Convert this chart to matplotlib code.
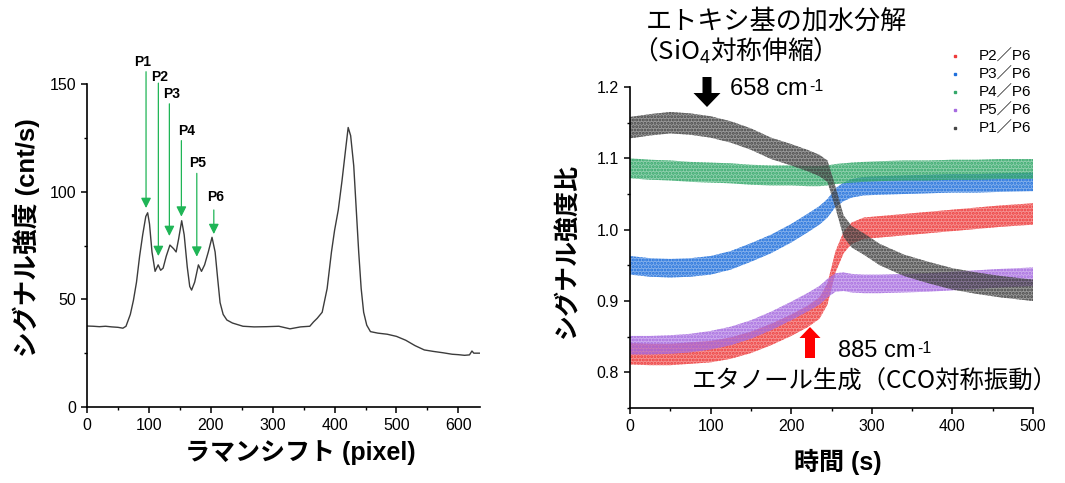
import matplotlib
matplotlib.use("Agg")
import matplotlib.pyplot as plt
from matplotlib.lines import Line2D
from matplotlib.patches import FancyArrow
from matplotlib.ticker import MultipleLocator

LAT = 'Liberation Sans'
CJK = 'Noto Sans CJK JP'
plt.rcParams['font.family'] = [LAT, CJK]
plt.rcParams['mathtext.fontset'] = 'custom'
plt.rcParams['mathtext.rm'] = LAT
plt.rcParams['mathtext.it'] = LAT + ':italic'
plt.rcParams['mathtext.bf'] = LAT + ':bold'
plt.rcParams['hatch.linewidth'] = 1.4

# --- left: raman spectrum ---
raman_x = [0, 10, 20, 30, 40, 50, 58, 63, 70, 75, 80, 85, 90, 95, 98, 101, 105, 110,
           115, 119, 123, 128, 134, 140, 144, 148, 153, 157, 162, 166, 169, 174, 180,
           185, 190, 196, 202, 207, 211, 215, 220, 226, 235, 252, 270, 290, 310, 328,
           345, 360, 366, 372, 380, 388, 395, 400, 406, 412, 418, 422, 426, 431, 435,
           439, 443, 447, 452, 458, 470, 485, 500, 515, 530, 545, 560, 575, 590, 600,
           610, 618, 622, 625, 635]
raman_y = [37.6, 37.5, 37.3, 37.5, 37.2, 37.0, 36.6, 37.5, 43, 49.5, 58, 70, 80, 88.5,
           90.2, 85, 72, 63, 66, 63.5, 64.5, 70, 75.2, 73.5, 72, 78, 86.5, 80, 65, 56,
           54.3, 58, 66, 63, 66, 72, 78.8, 72, 60, 48.5, 43, 40.4, 39, 37.5, 37.2, 37.3,
           37.5, 36.3, 37.2, 37.5, 39.5, 41.2, 44, 55, 72, 82, 91.5, 105, 120, 129.8,
           126, 112, 92, 72, 55, 44, 38, 35, 34.3, 33.8, 32.8, 31, 28.5, 26.5, 25.8,
           25.2, 24.5, 24.3, 24.0, 24.2, 26, 25, 25]

peak_names = ['P1', 'P2', 'P3', 'P4', 'P5', 'P6']
peak_x = [95.4, 115.3, 133.1, 152.5, 177.4, 204.9]
peak_tip = [92.4, 70.1, 79.4, 88.4, 69.8, 80.3]
peak_top = [155.7, 150.4, 140.8, 123.7, 108.5, 91.5]
label_x = [90.6, 118, 137, 161.2, 178.4, 208.6]
label_y = [160.4, 153.4, 145.4, 128.3, 113.2, 97.4]

# --- right: intensity ratios vs time ---
t_s = [0, 25, 50, 75, 100, 125, 150, 175, 200, 220, 235, 245, 255, 265, 275, 290,
       310, 340, 370, 400, 430, 460, 500]
p2_p6 = [0.826, 0.825, 0.825, 0.827, 0.829, 0.834, 0.842, 0.853, 0.866, 0.878, 0.890,
         0.910, 0.955, 0.982, 0.995, 1.002, 1.004, 1.007, 1.010, 1.013, 1.016, 1.019, 1.022]
p3_p6 = [0.950, 0.947, 0.946, 0.947, 0.950, 0.957, 0.968, 0.980, 0.995, 1.009, 1.020,
         1.030, 1.045, 1.053, 1.058, 1.061, 1.062, 1.063, 1.064, 1.065, 1.065, 1.066, 1.067]
p4_p6 = [1.086, 1.084, 1.083, 1.081, 1.080, 1.079, 1.077, 1.076, 1.076, 1.075, 1.075,
         1.076, 1.078, 1.079, 1.080, 1.081, 1.082, 1.083, 1.083, 1.084, 1.084, 1.085, 1.085]
p5_p6 = [0.838, 0.838, 0.839, 0.841, 0.845, 0.851, 0.860, 0.872, 0.886, 0.898, 0.908,
         0.918, 0.926, 0.927, 0.925, 0.924, 0.924, 0.925, 0.926, 0.928, 0.930, 0.932, 0.934]
p1_p6 = [1.143, 1.147, 1.150, 1.148, 1.144, 1.137, 1.127, 1.114, 1.105, 1.097, 1.090,
         1.082, 1.045, 1.005, 0.990, 0.980, 0.965, 0.950, 0.940, 0.931, 0.925, 0.920, 0.915]
series_names = ['P2／P6', 'P3／P6', 'P4／P6', 'P5／P6', 'P1／P6']
series_vals = [p2_p6, p3_p6, p4_p6, p5_p6, p1_p6]
series_spread = [0.015, 0.013, 0.014, 0.013, 0.015]
series_colors = ['#ee3b3b', '#1f6fdc', '#34a86a', '#a66be0', '#464646']

W, H = 1065, 483
fig = plt.figure(figsize=(W / 100, H / 100), dpi=100)


def fx(px):
    return px / W


def fy(py):
    return 1 - py / H


def style_axes(ax):
    for s in ['top', 'right']:
        ax.spines[s].set_visible(False)
    for s in ['left', 'bottom']:
        ax.spines[s].set_linewidth(1.2)
    ax.tick_params(which='major', direction='out', length=4.5, width=1.1, labelsize=11.5)
    ax.tick_params(which='minor', direction='out', length=2.5, width=1.0)


ax1 = fig.add_axes([fx(87), fy(407), fx(480 - 87), (407 - 84) / H])
ax1.plot(raman_x, raman_y, color='#3c3c3c', lw=1.0)
ax1.set_xlim(0, 635)
ax1.set_ylim(0, 150)
ax1.xaxis.set_major_locator(MultipleLocator(100))
ax1.xaxis.set_minor_locator(MultipleLocator(50))
ax1.yaxis.set_major_locator(MultipleLocator(50))
ax1.yaxis.set_minor_locator(MultipleLocator(25))
style_axes(ax1)

# peak markers
for name, x, tip, top, lx, ly in zip(peak_names, peak_x, peak_tip, peak_top, label_x, label_y):
    ax1.annotate('', xy=(x, tip), xytext=(x, top), annotation_clip=False,
                 arrowprops=dict(arrowstyle='-|>', color='#1fb556', lw=0.9,
                                 mutation_scale=15, shrinkA=0, shrinkB=0))
    ax1.text(lx, ly, name, ha='center', va='center', fontsize=10, fontweight='bold',
             clip_on=False)

fig.text(fx(300), fy(453), 'ラマンシフト (pixel)', ha='center', va='center',
         fontsize=18, fontweight='bold')
fig.text(fx(26), fy(238), 'シグナル強度 (cnt/s)', ha='center', va='center',
         rotation=90, fontsize=18.5, fontweight='bold')

ax2 = fig.add_axes([fx(630), fy(408), fx(1033 - 630), (408 - 87) / H])
for vals, spread, c in zip(series_vals, series_spread, series_colors):
    lo = [v - spread for v in vals]
    hi = [v + spread for v in vals]
    ax2.fill_between(t_s, lo, hi, facecolor=c, alpha=0.55, lw=0)
    ax2.fill_between(t_s, lo, hi, facecolor='none', edgecolor=c, hatch='.....', lw=0)
ax2.set_xlim(0, 500)
ax2.set_ylim(0.75, 1.2)
ax2.xaxis.set_major_locator(MultipleLocator(100))
ax2.xaxis.set_minor_locator(MultipleLocator(50))
ax2.yaxis.set_major_locator(MultipleLocator(0.1))
ax2.yaxis.set_minor_locator(MultipleLocator(0.05))
style_axes(ax2)

handles = [Line2D([], [], ls='none', marker='s', ms=1.6, color=c) for c in series_colors]
ax2.legend(handles, series_names, loc='upper left', bbox_to_anchor=(fx(938), fy(42)),
           bbox_transform=fig.transFigure, frameon=False, fontsize=11,
           handlelength=1.2, handletextpad=1.0, labelspacing=0.25, borderpad=0)

fig.text(fx(838), fy(475), '時間 (s)', ha='center', va='bottom', fontsize=18,
         fontweight='bold')
fig.text(fx(567), fy(250), 'シグナル強度比', ha='center', va='center', rotation=90,
         fontsize=18, fontweight='bold')

# annotations on the right panel
fig.text(fx(646), fy(21), 'エトキシ基の加水分解', ha='left', va='center', fontsize=18.8,
         family=[CJK])
fig.text(fx(632), fy(51), '（SiO$_4$対称伸縮）', ha='left', va='center', fontsize=18.5,
         family=[CJK])
for px, py, num in [(730, 95, '658'), (838, 357, '885')]:
    t = fig.text(fx(px), fy(py), num + ' cm', ha='left', va='baseline', fontsize=17)
    ax2.annotate('-1', xy=(1.0, 0.97), xycoords=t, xytext=(1, 0),
                 textcoords='offset points', ha='left', va='top', fontsize=11.5)
fig.text(fx(692), fy(382), 'エタノール生成（CCO対称振動）', ha='left', va='center',
         fontsize=17.6, family=[CJK])

fig.add_artist(FancyArrow(fx(707), fy(77), 0, -30 / H, width=9 / W, head_width=27 / W,
                          head_length=14 / H, length_includes_head=True,
                          color='black', lw=0, transform=fig.transFigure))
fig.add_artist(FancyArrow(fx(810), fy(358), 0, 31 / H, width=10 / W, head_width=21 / W,
                          head_length=11 / H, length_includes_head=True,
                          color='#ff0000', lw=0, transform=fig.transFigure))

fig.savefig('out.png', dpi=100)
